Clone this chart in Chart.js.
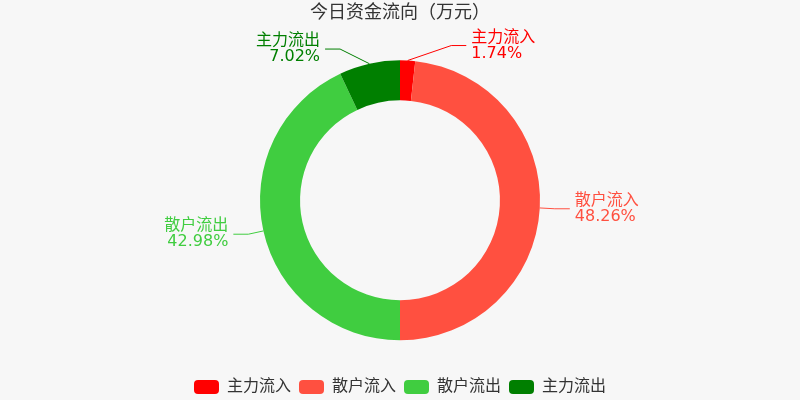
<!DOCTYPE html>
<html>
<head>
<meta charset="utf-8">
<script src="https://cdn.jsdelivr.net/npm/chart.js@4"></script>
<style>
  html, body { margin: 0; padding: 0; background: #f7f7f7; }
  #wrap { width: 800px; height: 400px; }
</style>
</head>
<body>
<div id="wrap"><canvas id="flowChart"></canvas></div>
<script>
const FONT = '"DejaVu Sans", "Noto Sans CJK SC", sans-serif';

// data
const categories = ['主力流入', '散户流入', '散户流出', '主力流出'];
const shares = [1.74, 48.26, 42.98, 7.02];
const colors = ['#ff0000', '#ff5040', '#40cd40', '#007f00'];
const titleText = '今日资金流向（万元）';

// outside labels with leader lines (echarts-like)
const outsideLabels = {
    id: 'outsideLabels',
    afterDatasetsDraw(chart) {
        const ctx = chart.ctx;
        const meta = chart.getDatasetMeta(0);
        const values = chart.data.datasets[0].data;
        const total = values.reduce((a, b) => a + b, 0);
        const len1 = 15, len2 = 15, gap = 5;

        meta.data.forEach((arc, i) => {
            const p = arc.getProps(['x', 'y', 'startAngle', 'endAngle', 'outerRadius'], true);
            const mid = (p.startAngle + p.endAngle) / 2;
            const cos = Math.cos(mid), sin = Math.sin(mid);
            const R = p.outerRadius;
            const x0 = p.x + R * cos;
            const y0 = p.y + R * sin;
            const rA = R + len1;
            const rB = R + 24;
            const dy = rA * sin;
            const dir = cos >= 0 ? 1 : -1;
            const dx = Math.sqrt(Math.max(0, 1 - (dy * dy) / (rB * rB))) * rA;
            const x1 = p.x + dir * dx;
            const y1 = p.y + dy;
            const x2 = x1 + dir * len2;

            ctx.save();
            ctx.strokeStyle = colors[i];
            ctx.lineWidth = 1;
            ctx.beginPath();
            ctx.moveTo(x0, y0);
            ctx.lineTo(x1, y1);
            ctx.lineTo(x2, y1);
            ctx.stroke();

            ctx.fillStyle = colors[i];
            ctx.font = '16px ' + FONT;
            ctx.textAlign = dir > 0 ? 'left' : 'right';
            ctx.textBaseline = 'middle';
            const tx = x2 + dir * gap;
            const pct = (values[i] / total * 100).toFixed(2) + '%';
            ctx.fillText(chart.data.labels[i], tx, y1 - 8);
            ctx.fillText(pct, tx, y1 + 8);
            ctx.restore();
        });
    }
};

new Chart(document.getElementById('flowChart'), {
    type: 'doughnut',
    data: {
        labels: categories,
        datasets: [{
            data: shares,
            backgroundColor: colors,
            borderWidth: 0,
            hoverOffset: 0
        }]
    },
    options: {
        responsive: true,
        maintainAspectRatio: false,
        animation: false,
        radius: 140,
        cutout: '71.4%',
        layout: { padding: { top: 0, bottom: -5 } },
        plugins: {
            title: {
                display: true,
                text: titleText,
                color: '#333',
                font: { family: FONT, size: 18, weight: 'normal' },
                padding: { top: 3, bottom: 5 }
            },
            legend: {
                position: 'bottom',
                labels: {
                    color: '#333',
                    font: { family: FONT, size: 16 },
                    boxWidth: 25,
                    boxHeight: 14,
                    useBorderRadius: true,
                    borderRadius: 4,
                    padding: 8
                }
            },
            tooltip: { enabled: false }
        }
    },
    plugins: [outsideLabels]
});
</script>
</body>
</html>
